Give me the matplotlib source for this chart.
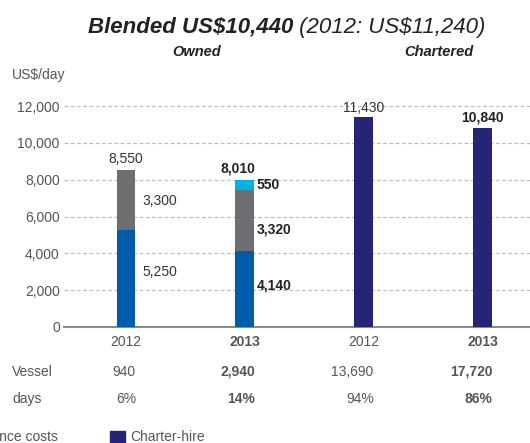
import matplotlib.pyplot as plt
import matplotlib.transforms as mtransforms
from matplotlib.patches import Rectangle

plt.rcParams['font.family'] = ['Liberation Sans', 'DejaVu Sans']

# data
years = ['2012', '2013', '2012', '2013']
owned_opex = [5250, 4140]
owned_dep = [3300, 3320]
owned_dd = [0, 550]
owned_total = [8550, 8010]
charter_hire = [11430, 10840]
vessel_days = ['940', '2,940', '13,690', '17,720']
days_share = ['6%', '14%', '94%', '86%']
yticks = [0, 2000, 4000, 6000, 8000, 10000, 12000]

c_opex = '#005BAA'
c_dep = '#6D6E71'
c_dd = '#00B4E6'
c_ch = '#262477'
c_txt = '#555555'

fig = plt.figure(figsize=(5.3, 4.43), dpi=100)
ax = fig.add_axes([64/530, 1 - 327/443, 1 - 64/530, (327 - 97)/443])

w = 0.155
xo = [0, 1]
xc = [2, 3]
ax.bar(xo, owned_opex, w, color=c_opex, zorder=3)
ax.bar(xo, owned_dep, w, bottom=owned_opex, color=c_dep, zorder=3)
bot = [a + b for a, b in zip(owned_opex, owned_dep)]
ax.bar(xo, owned_dd, w, bottom=bot, color=c_dd, zorder=3)
ax.bar(xc, charter_hire, w, color=c_ch, zorder=3)

ax.set_xlim(-0.52, 3.40)
ax.set_ylim(0, 12500)
ax.set_yticks(yticks)
ax.set_yticklabels(['{:,}'.format(v) for v in yticks], color=c_txt, fontsize=10)
ax.set_xticks([0, 1, 2, 3])
ax.set_xticklabels(years, color=c_txt, fontsize=10)
for lab in ax.get_xticklabels()[1::2]:
    lab.set_fontweight('bold')
ax.tick_params(length=0, pad=6)
ax.tick_params(axis='y', pad=3)
for s in ['top', 'right', 'left']:
    ax.spines[s].set_visible(False)
ax.spines['bottom'].set_color('#8A8A8A')
ax.spines['bottom'].set_linewidth(1.5)
ax.yaxis.grid(True, linestyle=(0, (3, 2)), color='#BDBDBD', linewidth=0.9, zorder=0)

# value labels
ax.text(0, owned_total[0] + 180, '{:,}'.format(owned_total[0]), ha='center', va='bottom', fontsize=10, color='#333333')
ax.text(0.14, 6840, '{:,}'.format(owned_dep[0]), ha='left', va='center', fontsize=10, color='#333333')
ax.text(0.14, 2990, '{:,}'.format(owned_opex[0]), ha='left', va='center', fontsize=10, color='#333333')
ax.text(0.94, owned_total[1] + 200, '{:,}'.format(owned_total[1]), ha='center', va='bottom', fontsize=10, color='#222222', fontweight='bold')
ax.text(1.10, 7710, '{:,}'.format(owned_dd[1]), ha='left', va='center', fontsize=10, color='#222222', fontweight='bold')
ax.text(1.10, 5320, '{:,}'.format(owned_dep[1]), ha='left', va='center', fontsize=10, color='#222222', fontweight='bold')
ax.text(1.10, 2280, '{:,}'.format(owned_opex[1]), ha='left', va='center', fontsize=10, color='#222222', fontweight='bold')
ax.text(2, charter_hire[0] + 80, '{:,}'.format(charter_hire[0]), ha='center', va='bottom', fontsize=10, color='#333333')
ax.text(3, charter_hire[1] + 180, '{:,}'.format(charter_hire[1]), ha='center', va='bottom', fontsize=10, color='#222222', fontweight='bold')

# vessel days rows
tr = mtransforms.blended_transform_factory(ax.transData, fig.transFigure)
for i in range(4):
    fwt = 'bold' if i % 2 else 'normal'
    ax.text(i + 0.085, 1 - 372/443, vessel_days[i], transform=tr, ha='right', va='center',
            fontsize=10, color=c_txt, fontweight=fwt)
    ax.text(i + 0.085, 1 - 399/443, days_share[i], transform=tr, ha='right', va='center',
            fontsize=10, color=c_txt, fontweight=fwt)
fig.text(12/530, 1 - 372/443, 'Vessel', ha='left', va='center', fontsize=10, color=c_txt)
fig.text(12/530, 1 - 399/443, 'days', ha='left', va='center', fontsize=10, color=c_txt)

# titles
fig.text(0.553, 1 - 27/443, 'Blended US$10,440', ha='right', va='center', fontsize=16,
         fontweight='bold', style='italic', color='#222222')
fig.text(0.553, 1 - 27/443, ' (2012: US$11,240)', ha='left', va='center', fontsize=16,
         style='italic', color='#222222')
fig.text(197/530, 1 - 52/443, 'Owned', ha='center', va='center', fontsize=10.5,
         fontweight='bold', style='italic', color='#222222')
fig.text(439/530, 1 - 52/443, 'Chartered', ha='center', va='center', fontsize=10.5,
         fontweight='bold', style='italic', color='#222222')
fig.text(12/530, 1 - 75/443, 'US$/day', ha='left', va='center', fontsize=10, color=c_txt)

# legend fragment at the bottom
fig.text(58/530, 1 - 437/443, 'Finance costs', ha='right', va='center', fontsize=10, color=c_txt)
fig.patches.append(Rectangle((110/530, 0), 15/530, 12/443, transform=fig.transFigure,
                             color=c_ch, figure=fig))
fig.text(130/530, 1 - 437/443, 'Charter-hire', ha='left', va='center', fontsize=10, color=c_txt)

fig.savefig('out.png', dpi=100)
